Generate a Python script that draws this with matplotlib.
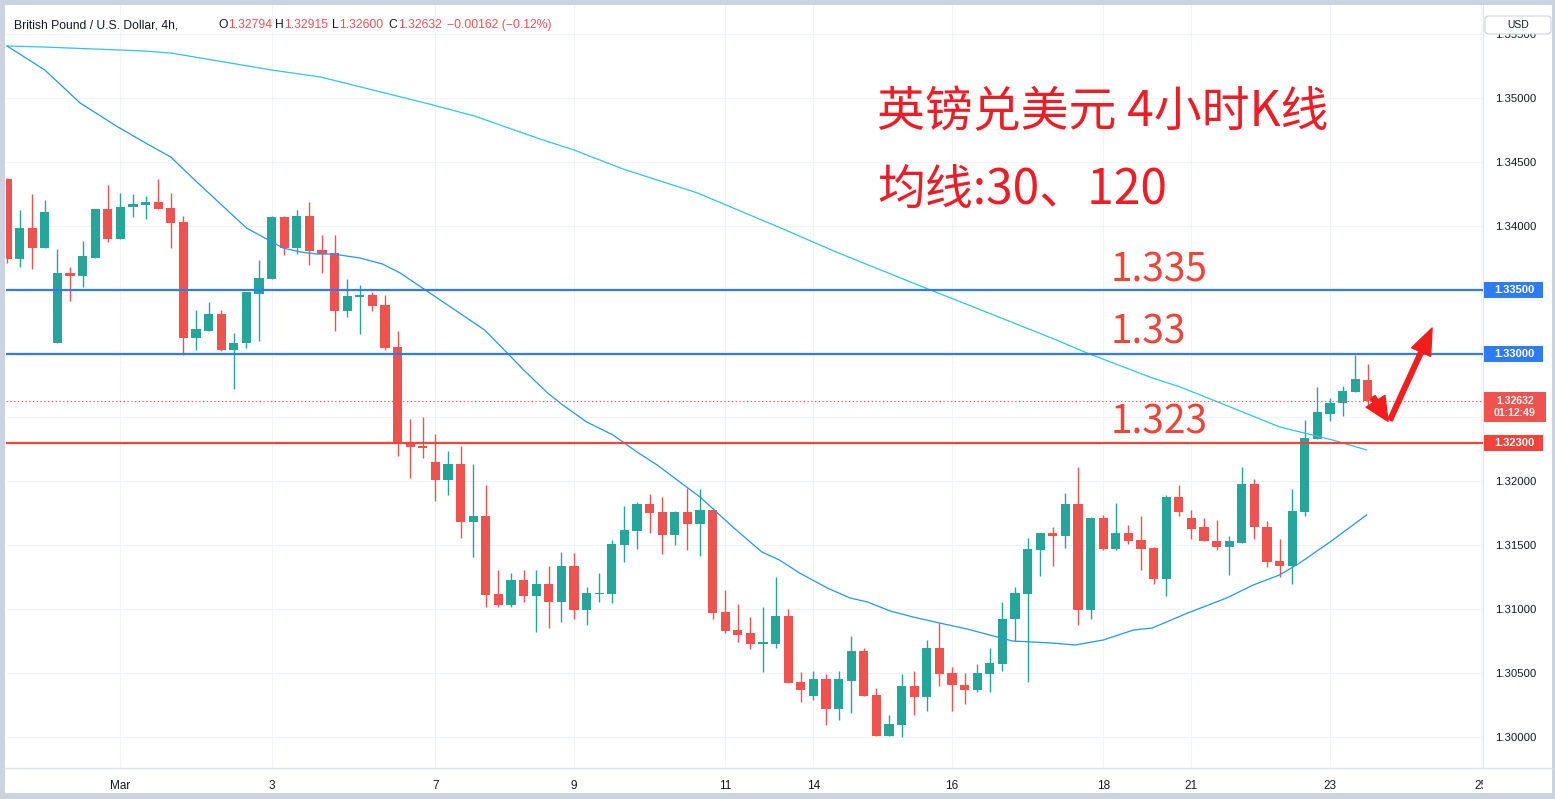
"""GBP/USD 4h candles with 30/120 moving averages and key levels"""
import matplotlib
matplotlib.use("Agg")
import matplotlib.pyplot as plt
from matplotlib.patches import Rectangle, FancyBboxPatch
from matplotlib.transforms import Affine2D, Bbox, TransformedBbox, blended_transform_factory
from matplotlib.lines import Line2D

W, H = 1555, 799

# candle data (4h bars)
opens = [1.34366, 1.3374, 1.3398, 1.3383, 1.3308, 1.3363, 1.3361, 1.3375, 1.3413, 1.3390,
         1.3415, 1.3416, 1.3419, 1.3414, 1.3403, 1.3312, 1.3318, 1.3331, 1.3303, 1.3308,
         1.3347, 1.3358, 1.3407, 1.3383, 1.3408, 1.3381, 1.3379, 1.3333, 1.3344, 1.3346,
         1.3338, 1.3305, 1.3230, 1.3228, 1.3215, 1.3201, 1.3214, 1.3168, 1.3173, 1.3112,
         1.3103, 1.3123, 1.3110, 1.3120, 1.3106, 1.3134, 1.3099, 1.3112, 1.3112, 1.3150,
         1.3161, 1.3182, 1.3176, 1.3158, 1.3176, 1.3167, 1.3178, 1.3098, 1.3084, 1.3081,
         1.3073, 1.3073, 1.3095, 1.3043, 1.3032, 1.3045, 1.3022, 1.3044, 1.3067, 1.3033,
         1.3001, 1.3009, 1.3040, 1.3031, 1.3070, 1.3050, 1.3041, 1.3037, 1.3049, 1.3057,
         1.3092, 1.3112, 1.3146, 1.3160, 1.3157, 1.3182, 1.3099, 1.3171, 1.3147, 1.3160,
         1.3154, 1.3148, 1.3124, 1.3188, 1.3171, 1.3164, 1.3153, 1.3149, 1.3152, 1.3198,
         1.3164, 1.3138, 1.3134, 1.3176, 1.3233, 1.3253, 1.3261, 1.3270, 1.32794]
highs = [1.34374, 1.3412, 1.3425, 1.3420, 1.3382, 1.3368, 1.3388, 1.3413, 1.3432, 1.3426,
         1.3425, 1.3423, 1.3437, 1.3426, 1.3408, 1.3334, 1.3340, 1.3334, 1.3316, 1.3348,
         1.3373, 1.3408, 1.3408, 1.3412, 1.3419, 1.3393, 1.3393, 1.3358, 1.3354, 1.3348,
         1.3346, 1.3318, 1.3249, 1.3250, 1.3237, 1.3224, 1.3228, 1.3214, 1.3197, 1.3131,
         1.3128, 1.3131, 1.3131, 1.3134, 1.3145, 1.3144, 1.3117, 1.3128, 1.3154, 1.3181,
         1.3184, 1.3190, 1.3188, 1.3177, 1.3195, 1.3194, 1.3179, 1.3115, 1.3104, 1.3094,
         1.3102, 1.3125, 1.3100, 1.3051, 1.3052, 1.3049, 1.3052, 1.3079, 1.3070, 1.3038,
         1.3017, 1.3049, 1.3052, 1.3076, 1.3089, 1.3055, 1.3050, 1.3057, 1.3070, 1.3106,
         1.3117, 1.3156, 1.3160, 1.3164, 1.3191, 1.3211, 1.3172, 1.3174, 1.3183, 1.3166,
         1.3173, 1.3149, 1.3189, 1.3197, 1.3178, 1.3171, 1.3170, 1.3157, 1.3211, 1.3202,
         1.3169, 1.3155, 1.3194, 1.3248, 1.3274, 1.3265, 1.3275, 1.3299, 1.32915]
lows = [1.33709, 1.3368, 1.3366, 1.3383, 1.3308, 1.3341, 1.3352, 1.3375, 1.3387, 1.3390,
        1.3407, 1.3405, 1.3413, 1.3383, 1.3299, 1.3303, 1.3318, 1.3302, 1.3272, 1.3304,
        1.3310, 1.3358, 1.3377, 1.3378, 1.3369, 1.3363, 1.3318, 1.3329, 1.3315, 1.3333,
        1.3303, 1.3220, 1.3203, 1.3218, 1.3185, 1.3189, 1.3156, 1.3141, 1.3102, 1.3102,
        1.3102, 1.3106, 1.3082, 1.3085, 1.3090, 1.3092, 1.3088, 1.3106, 1.3105, 1.3137,
        1.3147, 1.3160, 1.3143, 1.3150, 1.3146, 1.3142, 1.3092, 1.3081, 1.3074, 1.3069,
        1.3051, 1.3070, 1.3042, 1.3027, 1.3029, 1.3009, 1.3013, 1.3019, 1.3032, 1.3001,
        1.3001, 1.3000, 1.3017, 1.3020, 1.3040, 1.3020, 1.3026, 1.3035, 1.3035, 1.3052,
        1.3075, 1.3043, 1.3126, 1.3134, 1.3148, 1.3088, 1.3092, 1.3146, 1.3146, 1.3151,
        1.3131, 1.3120, 1.3110, 1.3173, 1.3155, 1.3153, 1.3146, 1.3127, 1.3152, 1.3155,
        1.3133, 1.3125, 1.3120, 1.3173, 1.3233, 1.3247, 1.3251, 1.3270, 1.32600]
closes = [1.33740, 1.3398, 1.3383, 1.3411, 1.3363, 1.3361, 1.3376, 1.3413, 1.3390, 1.3415,
          1.3417, 1.3419, 1.3413, 1.3402, 1.3312, 1.3319, 1.3331, 1.3303, 1.3308, 1.3348,
          1.3359, 1.3407, 1.3383, 1.3408, 1.3380, 1.3378, 1.3333, 1.3345, 1.3346, 1.3337,
          1.3304, 1.3230, 1.3227, 1.3226, 1.3201, 1.3214, 1.3168, 1.3173, 1.3111, 1.3103,
          1.3123, 1.3110, 1.3120, 1.3106, 1.3134, 1.3099, 1.3113, 1.3113, 1.3151, 1.3162,
          1.3182, 1.3175, 1.3158, 1.3176, 1.3167, 1.3178, 1.3097, 1.3083, 1.3080, 1.3073,
          1.3074, 1.3095, 1.3042, 1.3037, 1.3045, 1.3022, 1.3045, 1.3067, 1.3032, 1.3001,
          1.3010, 1.3040, 1.3031, 1.3070, 1.3049, 1.3041, 1.3037, 1.3050, 1.3058, 1.3092,
          1.3113, 1.3147, 1.3160, 1.3157, 1.3182, 1.3099, 1.3171, 1.3147, 1.3160, 1.3153,
          1.3147, 1.3124, 1.3188, 1.3176, 1.3163, 1.3153, 1.3149, 1.3153, 1.3198, 1.3164,
          1.3137, 1.3134, 1.3177, 1.3234, 1.3254, 1.3261, 1.3271, 1.3280, 1.32632]

# moving averages, sampled along the drawn lines (bar index, price)
ma30_idx = [0, 3.0, 5.8, 8.8, 11.0, 13.0, 14.9, 19.0, 20.6, 21.9, 23.3, 24.6, 25.9, 28.0,
            29.8, 31.2, 37.9, 39.7, 41.0, 42.9, 44.1, 46.0, 48.1, 50.0, 51.6, 53.4, 55.0,
            57.6, 59.9, 61.3, 62.9, 65.1, 66.9, 68.3, 70.1, 71.9, 74.0, 76.2, 78.3, 79.8,
            82.8, 84.8, 87.0, 89.4, 90.9, 93.7, 96.8, 98.9, 101.0, 102.6, 105.0, 107.9]
ma30_val = [1.35407, 1.35219, 1.34961, 1.34773, 1.34648, 1.34538, 1.34358, 1.33983, 1.33897,
            1.33826, 1.33795, 1.33779, 1.33779, 1.33748, 1.33701, 1.33631, 1.33185, 1.33005,
            1.32872, 1.32692, 1.32598, 1.32465, 1.32363, 1.32230, 1.32128, 1.31995, 1.31878,
            1.31643, 1.31448, 1.31385, 1.31283, 1.31166, 1.31088, 1.31056, 1.30986, 1.30939,
            1.30892, 1.30845, 1.30790, 1.30751, 1.30736, 1.30720, 1.30759, 1.30837, 1.30853,
            1.30970, 1.31088, 1.31189, 1.31268, 1.31362, 1.31526, 1.31737]
ma120_idx = [0, 2.9, 10.8, 13.0, 21.0, 24.9, 33.5, 37.1, 42.3, 45.0, 48.9, 54.8, 61.4, 65.8,
             72.9, 77.9, 83.3, 85.7, 90.9, 93.1, 95.7, 101.0, 102.6, 105.2, 107.9]
ma120_val = [1.35407, 1.35399, 1.35368, 1.35352, 1.35219, 1.35164, 1.34953, 1.34859, 1.34679,
             1.34593, 1.34444, 1.34257, 1.33983, 1.33795, 1.33513, 1.33318, 1.33106, 1.33005,
             1.32809, 1.32739, 1.32637, 1.32426, 1.32387, 1.32324, 1.32246]

date_idx = [9, 21, 34, 45, 57, 64, 75, 87, 94, 105, 117]
date_labels = ["Mar", "3", "7", "9", "11", "14", "16", "18", "21", "23", "25"]
price_ticks = [1.300, 1.305, 1.310, 1.315, 1.320, 1.325, 1.330, 1.335, 1.340, 1.345,
               1.350, 1.355]

levels_blue = [1.335, 1.330]
level_red = 1.323
last_price = closes[-1]
countdown = "01:12:49"

UP, DOWN = "#26a69a", "#ef5350"
LINE_BLUE, LINE_RED = "#2f7bf2", "#f2433a"
ANNO_RED, TITLE_RED = "#f0443a", "#ee1c25"
ARROW_RED = "#f51c1c"
GRID = "#f0f3fa"
TXT = "#131722"

fig = plt.figure(figsize=(W / 100, H / 100), dpi=100, facecolor="#cbd3e0")
# pixel coords with origin at top-left of the image
pix = Affine2D().scale(1, -1).translate(0, H).scale(1 / W, 1 / H) + fig.transFigure

fig.add_artist(Rectangle((5, 5), 1547, 788, transform=pix, facecolor="white",
                         edgecolor="none", zorder=0))

ax = fig.add_axes([6 / W, (H - 768) / H, (1483 - 6) / W, (768 - 5) / H])
ax.set_facecolor("white")
ax.set_xlim(-0.08, 117.14)
ax.set_ylim(1.297574, 1.357277)

# grid
for p in price_ticks:
    ax.axhline(p, color=GRID, lw=0.8, zorder=0)
for d in date_idx:
    ax.axvline(d, color=GRID, lw=0.8, zorder=0)

# candles
xs = list(range(len(opens)))
cols = [UP if c >= o else DOWN for o, c in zip(opens, closes)]
ax.vlines(xs, lows, highs, colors=cols, lw=1.0, zorder=3)
bodies = [max(abs(c - o), 0.00008) for o, c in zip(opens, closes)]
bottoms = [min(o, c) for o, c in zip(opens, closes)]
ax.bar(xs, bodies, bottom=bottoms, width=0.72, color=cols, linewidth=0, zorder=4)

# moving averages
ax.plot(ma120_idx, ma120_val, color="#2cc6dc", lw=0.9, zorder=5)
ax.plot(ma30_idx, ma30_val, color="#2196f3", lw=0.9, zorder=5)

# key levels
for lv in levels_blue:
    ax.axhline(lv, color=LINE_BLUE, lw=1.6, zorder=6)
ax.axhline(level_red, color=LINE_RED, lw=1.6, zorder=6)
ax.axhline(last_price, color=DOWN, lw=0.8, ls=(0, (1.2, 2.2)), zorder=6)

# axes styling
for s in ["top", "left", "bottom"]:
    ax.spines[s].set_visible(False)
ax.spines["right"].set_color("#e0e3eb")
ax.yaxis.tick_right()
ax.set_yticks(price_ticks)
# ticks hidden behind the level / last-price boxes are left blank
covered = [1.325, 1.330, 1.335]
ax.set_yticklabels(["" if p in covered else f"{p:.5f}" for p in price_ticks])
ax.tick_params(axis="y", length=0, pad=8.6, labelsize=8.2, labelcolor=TXT)
for lab in ax.get_yticklabels():
    lab.set_family("Liberation Sans")
ax.set_xticks(date_idx)
ax.set_xticklabels(date_labels)
ax.tick_params(axis="x", length=0, pad=8.5, labelsize=8.5, labelcolor=TXT)
time_clip = TransformedBbox(Bbox([[0, 0], [1483 / W, 1]]), fig.transFigure)
for lab in ax.get_xticklabels():
    lab.set_family("Liberation Sans")
    lab.set_clip_on(True)
    lab.set_clip_box(time_clip)

fig.add_artist(Line2D([5, 1552], [768, 768], transform=pix, color="#e0e3eb", lw=1))

# price labels on the axis
yb = blended_transform_factory(pix, ax.transData)
dpp = (1.357277 - 1.297574) / 763
lab_font = dict(ha="center", va="center", color="white", fontsize=8.0,
                fontweight="bold", family="Liberation Sans", zorder=6)
for lv in levels_blue:
    fig.add_artist(Rectangle((1484, lv - 8 * dpp), 59, 16 * dpp, transform=yb,
                             facecolor=LINE_BLUE, edgecolor="none", zorder=5))
    fig.text(1514, lv, f"{lv:.5f}", transform=yb, **lab_font)
fig.add_artist(Rectangle((1484, level_red - 8 * dpp), 59, 16 * dpp, transform=yb,
                         facecolor=LINE_RED, edgecolor="none", zorder=5))
fig.text(1514, level_red, f"{level_red:.5f}", transform=yb, **lab_font)
fig.add_artist(Rectangle((1484, 392), 62, 30, transform=pix, facecolor=DOWN,
                         edgecolor="none", zorder=5))
fig.text(1515, 407, f"{last_price:.5f}\n{countdown}", transform=pix, linespacing=1.15,
         **dict(lab_font, fontsize=7.6, color="#fff3f2"))

# USD button
fig.add_artist(FancyBboxPatch((1485, 16), 66, 18, boxstyle="round,pad=0,rounding_size=4",
                              transform=pix, facecolor="white", edgecolor="#d1d4dc",
                              lw=0.8, zorder=5))
fig.text(1518, 25, "USD", transform=pix, ha="center", va="center", color=TXT,
         fontsize=7.5, family="Liberation Sans", zorder=6)

# legend header
hdr = dict(transform=pix, va="center", ha="left", fontsize=8.7, family="Liberation Sans")
fig.text(14, 25, "British Pound / U.S. Dollar, 4h,", color=TXT, **hdr)
for letter, lx, val, vx in [("O", 218, opens[-1], 228), ("H", 275, highs[-1], 284.5),
                            ("L", 332, lows[-1], 339.5), ("C", 388, closes[-1], 398.5)]:
    fig.text(lx, 25, letter, color=TXT, **hdr)
    fig.text(vx, 25, f"{val:.5f}", color=DOWN, **hdr)
chg = closes[-1] - opens[-1]
fig.text(447, 25, f"\u2212{abs(chg):.5f} (\u2212{abs(chg) / opens[-1] * 100:.2f}%)",
         color=DOWN, **hdr)

# annotations
cjk = ["Noto Sans CJK SC", "DejaVu Sans"]
fig.text(877, 112, "英镑兑美元 4小时K线", transform=pix, ha="left", va="center",
         color=TITLE_RED, fontsize=34.5, family=cjk)
fig.text(877, 190, "均线:30、120", transform=pix, ha="left", va="center",
         color=TITLE_RED, fontsize=34.5, family=cjk)
for txt, ty in [("1.335", 270), ("1.33", 333), ("1.323", 422)]:
    fig.text(1111, ty, txt, transform=pix, ha="left", va="center", color=ANNO_RED,
             fontsize=28, family=cjk)

ax.annotate("", xy=(109.6, 1.3247), xytext=(108.4, 1.3266),
            arrowprops=dict(arrowstyle="simple,head_length=0.85,head_width=0.8,tail_width=0.2",
                            color=ARROW_RED, shrinkA=0, shrinkB=0, mutation_scale=20),
            annotation_clip=False, zorder=7)
ax.annotate("", xy=(113.1, 1.3320), xytext=(109.76, 1.3248),
            arrowprops=dict(arrowstyle="simple,head_length=0.95,head_width=0.75,tail_width=0.17",
                            color=ARROW_RED, shrinkA=0, shrinkB=0, mutation_scale=20),
            annotation_clip=False, zorder=7)

fig.savefig("out.png", dpi=100, facecolor=fig.get_facecolor())
